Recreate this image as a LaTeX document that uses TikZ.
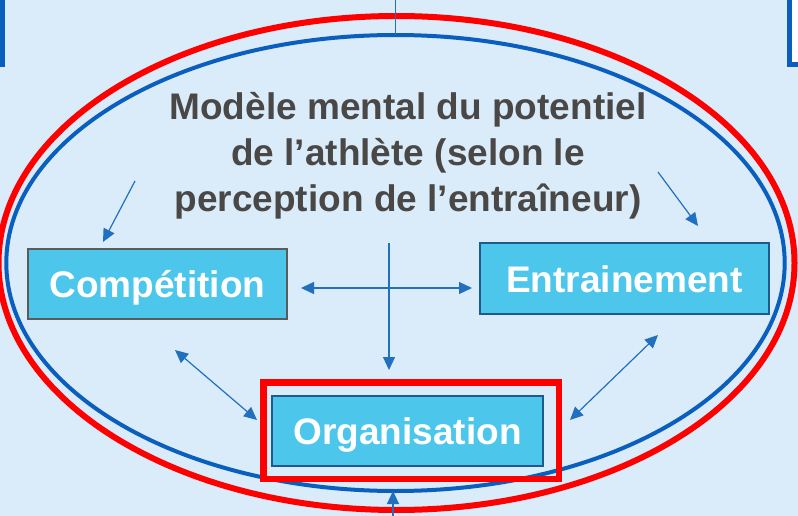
\documentclass[tikz,border=0pt]{standalone}
\usepackage{fontspec}
\setmainfont{Liberation Sans}
\usetikzlibrary{shapes.geometric,arrows.meta}
\definecolor{bg}{HTML}{DAEBFA}
\definecolor{arrowc}{HTML}{2170C0}
\definecolor{ellblue}{HTML}{0A5EBE}
\definecolor{ellred}{HTML}{FF0000}
\definecolor{boxfill}{HTML}{4CC7EB}
\definecolor{titlegray}{HTML}{4A4846}
\definecolor{graybord}{HTML}{5B5B5B}
\definecolor{bluebord}{HTML}{1E5A8C}
\tikzset{
  conn/.style={draw=arrowc, line width=1.2pt, -{Triangle[length=13pt,width=12pt]}},
  dconn/.style={draw=arrowc, line width=1.2pt, {Triangle[length=13pt,width=12pt]}-{Triangle[length=13pt,width=12pt]}},
  thinline/.style={draw=arrowc, line width=1.2pt},
  boxnode/.style={rectangle, fill=boxfill, line width=2.5pt, inner sep=0pt, outer sep=0pt,
    font=\fontsize{37}{44}\selectfont\bfseries, text=white, text height=27pt, text depth=0pt},
  ell/.style={ellipse, inner sep=0pt, outer sep=0pt},
  topbox/.style={draw=ellblue, fill=white, line width=5pt}
}
\begin{document}
\begin{tikzpicture}[x=1pt,y=-1pt]
\useasboundingbox (0,0) rectangle (798,516);
\clip (0,0) rectangle (798,516);
\fill[bg] (0,0) rectangle (798,516);
% partial boxes at the top
\draw[topbox] (-60,-10) rectangle (2.5,64.5);
\draw[topbox] (789,64.5) rectangle (860,-10);
% ellipses
\node[ell, draw=ellred, line width=6pt, minimum width=796pt, minimum height=494pt] (outer) at (396.5,263) {};
\node[ell, draw=ellblue, line width=4pt, minimum width=778.4pt, minimum height=456pt] (inner) at (395.5,263) {};
% title
\node[anchor=north, align=center, inner sep=0pt, text=titlegray,
  font=\fontsize{37}{46}\selectfont\bfseries] (title) at (408,92.6)
  {Modèle mental du potentiel\\de l’athlète (selon le\\perception de l’entraîneur)};
% boxes
\node[boxnode, draw=graybord, minimum width=259pt, minimum height=70pt] (comp) at (157.5,284) {Compétition};
\node[boxnode, draw=bluebord, minimum width=289pt, minimum height=71pt] (ent) at (624.5,278.5) {Entrainement};
\node[boxnode, draw=bluebord, minimum width=271pt, minimum height=70pt] (org) at (407.5,431) {Organisation};
\node[rectangle, draw=ellred, line width=6.5pt, inner sep=0pt, outer sep=0pt,
  minimum width=295.5pt, minimum height=96.5pt] (frame) at (411,430.5) {};
% connector end points
\coordinate (topin) at (395.5,0);
\coordinate (botin) at (393,516);
\coordinate (tl) at (135,181);
\coordinate (tlend) at (103,242);
\coordinate (tr) at (658,172);
\coordinate (trend) at (698,226);
\coordinate (hl) at (301,288);
\coordinate (hr) at (472,288);
\coordinate (vt) at (389,243);
\coordinate (vb) at (389,370);
\coordinate (bl) at (175,350);
\coordinate (blend) at (257,420);
\coordinate (br) at (658,335);
\coordinate (brend) at (570,420);
% connectors
\draw[thinline] (topin) -- (inner.north);
\draw[conn] (botin) -- (botin |- inner.south);
\draw[conn] (tl) -- (tlend);
\draw[conn] (tr) -- (trend);
\draw[dconn] (hl) -- (hr);
\draw[conn] (vt) -- (vb);
\draw[dconn] (bl) -- (blend);
\draw[dconn] (br) -- (brend);
\end{tikzpicture}
\end{document}
